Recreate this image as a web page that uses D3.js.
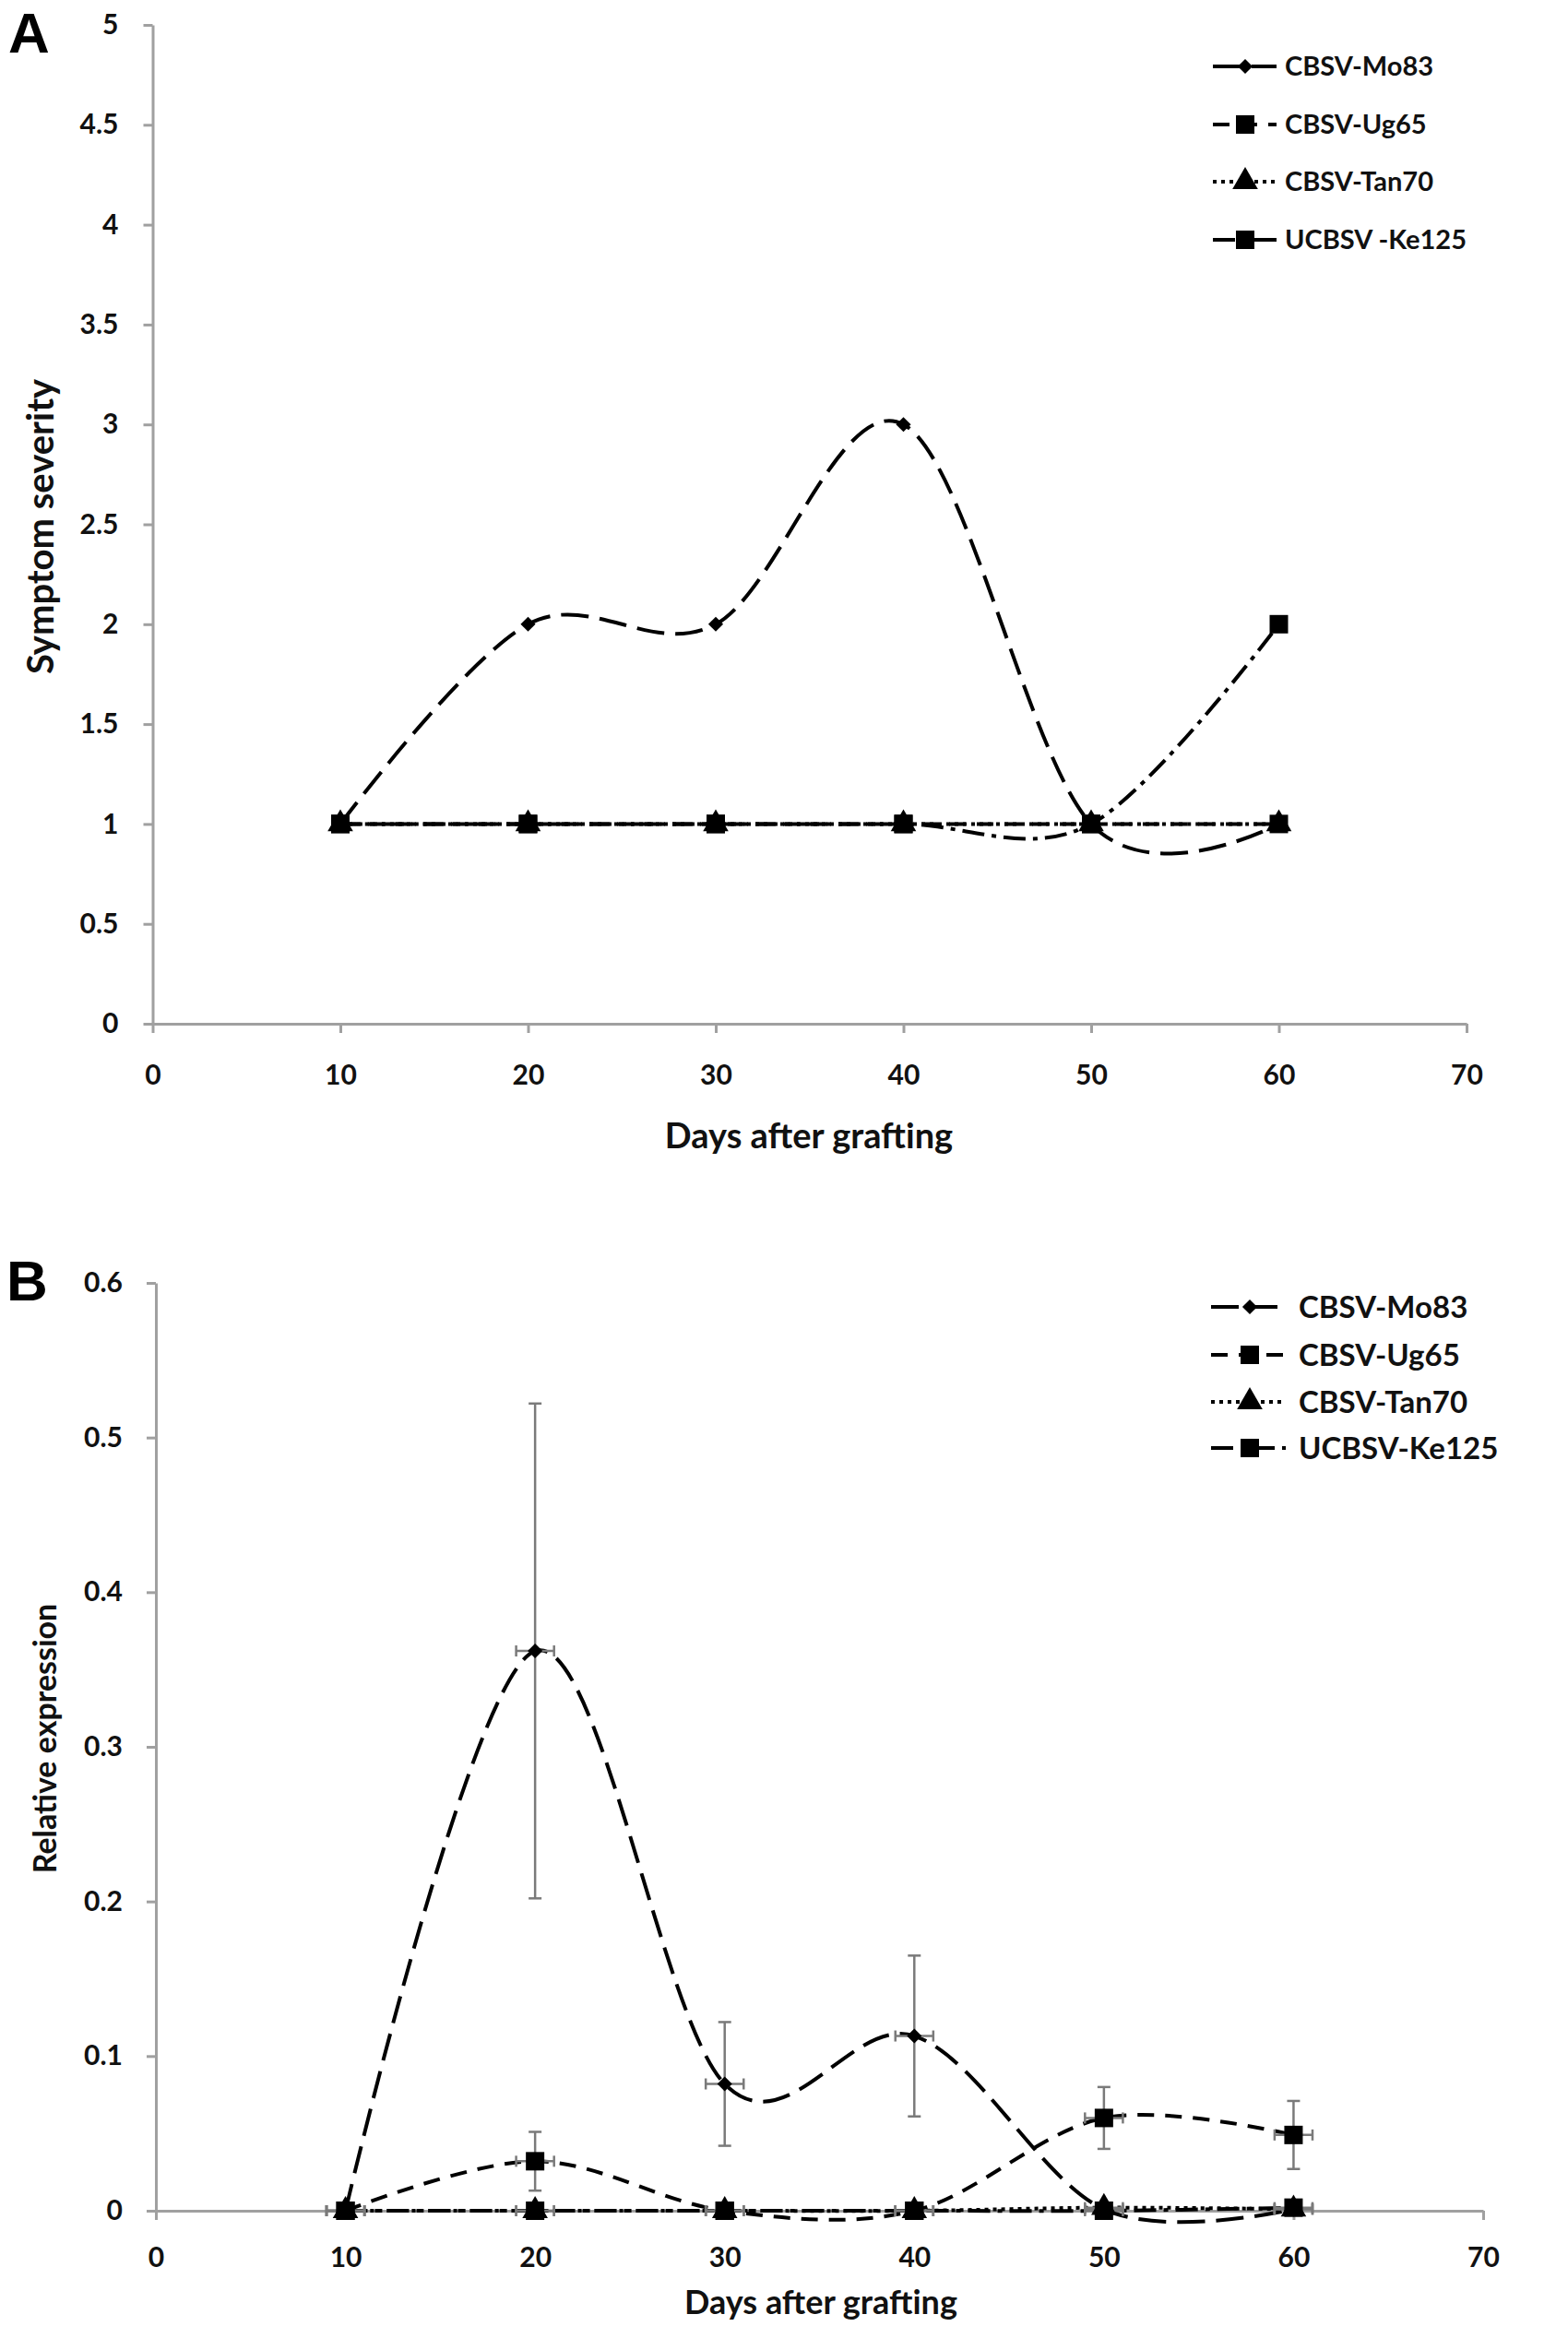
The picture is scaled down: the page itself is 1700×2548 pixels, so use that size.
<!DOCTYPE html>
<html>
<head>
<meta charset="utf-8">
<script src="https://cdn.jsdelivr.net/npm/d3@7/dist/d3.min.js"></script>
<style>
    body { margin: 0; background: #fff; }
    svg text { font-family: Lato, "Open Sans", sans-serif; font-weight: 700; fill: #111; }
</style>
</head>
<body>
<div id="draw_svg"></div>
<script>
// 数据：天数与刻度
const days = [10, 20, 30, 40, 50, 60];
const xTicks = [0, 10, 20, 30, 40, 50, 60, 70];
const dayErr = 1;

// A: 症状严重程度
const sevTicks = [0, 0.5, 1, 1.5, 2, 2.5, 3, 3.5, 4, 4.5, 5];
const sevMo83 = [1, 2, 2, 3, 1, 1];
const sevUg65 = [1, 1, 1, 1, 1, 1];
const sevTan70 = [1, 1, 1, 1, 1, 1];
const sevKe125 = [1, 1, 1, 1, 1, 2];
const legendA = ['CBSV-Mo83', 'CBSV-Ug65', 'CBSV-Tan70', 'UCBSV -Ke125'];

// B: 相对表达量 (含误差)
const expTicks = [0, 0.1, 0.2, 0.3, 0.4, 0.5, 0.6];
const expMo83 = [0, 0.362, 0.082, 0.113, 0.001, 0.001];
const expMo83Err = [0, 0.160, 0.040, 0.052, 0.001, 0];
const expUg65 = [0, 0.032, 0, 0, 0.060, 0.049];
const expUg65Err = [0, 0.019, 0, 0, 0.020, 0.022];
const expTan70 = [0, 0, 0, 0, 0.002, 0.001];
const expKe125 = [0, 0, 0, 0, 0, 0.002];
const legendB = ['CBSV-Mo83', 'CBSV-Ug65', 'CBSV-Tan70', 'UCBSV-Ke125'];

/**
 * 各系列线型与标记
 */
const styleOf = {
    Mo83: {dash: '30,12', marker: 'diamond'},
    Ug65: {dash: '18,12', marker: 'square'},
    Tan70: {dash: '4,5', marker: 'triangle'},
    Ke125: {dash: '24,8,5,8', marker: 'square'}
};

const symbolPath = {
    diamond: d3.symbol(d3.symbolSquare, 130)(),
    square: d3.symbol(d3.symbolSquare, 400)(),
    triangle: d3.symbol(d3.symbolTriangle, 330)()
};

drawMarker = (g, type, cx, cy) => {
    const rot = type === 'diamond' ? ' rotate(45)' : '';
    g.append('path')
        .attr('d', symbolPath[type])
        .attr('transform', `translate(${cx},${cy})${rot}`)
        .attr('fill', '#000');
}

/**
 * 绘制单个面板
 */
drawPanel = (svg, cfg) => {
    const x = d3.scaleLinear().domain([0, 70]).range(cfg.xr);
    const y = d3.scaleLinear().domain(cfg.yDomain).range(cfg.yr);
    const g = svg.append('g');

    const yAxis = g.append('g')
        .attr('transform', `translate(${x(0)},0)`)
        .call(d3.axisLeft(y).tickValues(cfg.yTicks).tickSize(10).tickSizeOuter(0)
            .tickPadding(cfg.yPad).tickFormat(d => String(d)));
    const xAxis = g.append('g')
        .attr('transform', `translate(0,${y(0)})`)
        .call(d3.axisBottom(x).tickValues(xTicks).tickSize(10).tickSizeOuter(0)
            .tickPadding(cfg.xPad).tickFormat(d => String(d)));

    [xAxis, yAxis].forEach(a => {
        a.attr('font-size', null).attr('font-family', null);
        a.selectAll('path, line').attr('stroke', '#a0a0a0').attr('stroke-width', 3);
        a.selectAll('text').style('font-size', '30px');
    });

    const line = d3.line()
        .x((d, i) => x(days[i]))
        .y(d => y(d))
        .curve(d3.curveCardinal.tension(0));

    // 线条
    cfg.series.forEach(s => {
        g.append('path')
            .attr('d', line(s.vals))
            .attr('fill', 'none')
            .attr('stroke', '#000')
            .attr('stroke-width', 4)
            .attr('stroke-dasharray', styleOf[s.key].dash);
    });

    // 误差线
    if (cfg.errors) {
        const eg = g.append('g').attr('stroke', '#7a7a7a').attr('stroke-width', 2.5);
        cfg.series.forEach(s => {
            s.vals.forEach((v, i) => {
                const cx = x(days[i]);
                const cy = y(v);
                const e = s.err ? s.err[i] : 0;
                if (e > 0) {
                    eg.append('line').attr('x1', cx).attr('x2', cx).attr('y1', y(v - e)).attr('y2', y(v + e));
                    [v - e, v + e].forEach(b => {
                        eg.append('line').attr('x1', cx - 7).attr('x2', cx + 7).attr('y1', y(b)).attr('y2', y(b));
                    });
                }
                eg.append('line').attr('x1', x(days[i] - dayErr)).attr('x2', x(days[i] + dayErr)).attr('y1', cy).attr('y2', cy);
                [days[i] - dayErr, days[i] + dayErr].forEach(b => {
                    eg.append('line').attr('x1', x(b)).attr('x2', x(b)).attr('y1', cy - 6).attr('y2', cy + 6);
                });
            });
        });
    }

    // 标记
    cfg.series.forEach(s => {
        s.vals.forEach((v, i) => drawMarker(g, styleOf[s.key].marker, x(days[i]), y(v)));
    });

    // 图例
    const legendKeys = ['Mo83', 'Ug65', 'Tan70', 'Ke125'];
    legendKeys.forEach((k, i) => {
        const ly = cfg.legend.rows[i];
        g.append('line')
            .attr('x1', cfg.legend.x1).attr('x2', cfg.legend.x2)
            .attr('y1', ly).attr('y2', ly)
            .attr('stroke', '#000').attr('stroke-width', 4)
            .attr('stroke-dasharray', styleOf[k].dash);
        drawMarker(g, styleOf[k].marker, cfg.legend.mx, ly);
        g.append('text')
            .attr('x', cfg.legend.tx).attr('y', ly).attr('dy', '0.36em')
            .style('font-size', cfg.legend.size + 'px')
            .text(cfg.legend.labels[i]);
    });

    // 坐标轴标题
    g.append('text')
        .attr('transform', `translate(${cfg.yTitle.x},${cfg.yTitle.y}) rotate(-90)`)
        .attr('text-anchor', 'middle').attr('dy', '0.35em')
        .style('font-size', cfg.yTitle.size + 'px')
        .text(cfg.yTitle.text);
    g.append('text')
        .attr('x', cfg.xTitle.x).attr('y', cfg.xTitle.y)
        .attr('text-anchor', 'middle').attr('dy', '0.35em')
        .style('font-size', cfg.xTitle.size + 'px')
        .text('Days after grafting');

    g.append('text')
        .attr('x', cfg.letter.x).attr('y', cfg.letter.y)
        .style('font-family', '"Liberation Sans", Arial, sans-serif')
        .style('font-size', '62px')
        .style('fill', '#000')
        .text(cfg.letter.text);
}

pageInit = () => {
    const svg = d3.select('#draw_svg')
        .append('svg')
        .attr('width', 1700)
        .attr('height', 2548);

    drawPanel(svg, {
        xr: [165.5, 1590], yr: [1110, 27], yDomain: [0, 5], yTicks: sevTicks, yPad: 27, xPad: 35,
        series: [
            {key: 'Mo83', vals: sevMo83},
            {key: 'Tan70', vals: sevTan70},
            {key: 'Ug65', vals: sevUg65},
            {key: 'Ke125', vals: sevKe125}
        ],
        errors: false,
        legend: {rows: [72, 135, 197, 260], x1: 1315, x2: 1384, mx: 1350, tx: 1393, size: 29, labels: legendA},
        yTitle: {x: 44, y: 571, size: 40, text: 'Symptom  severity'},
        xTitle: {x: 877, y: 1232, size: 38},
        letter: {x: 9, y: 57, text: 'A'}
    });

    drawPanel(svg, {
        xr: [169, 1608], yr: [2397, 1391], yDomain: [0, 0.6], yTicks: expTicks, yPad: 26, xPad: 30,
        series: [
            {key: 'Mo83', vals: expMo83, err: expMo83Err},
            {key: 'Tan70', vals: expTan70},
            {key: 'Ug65', vals: expUg65, err: expUg65Err},
            {key: 'Ke125', vals: expKe125}
        ],
        errors: true,
        legend: {rows: [1417, 1469, 1520, 1570], x1: 1313, x2: 1394, mx: 1355, tx: 1408, size: 33, labels: legendB},
        yTitle: {x: 49, y: 1885, size: 34, text: 'Relative expression'},
        xTitle: {x: 890, y: 2496, size: 36},
        letter: {x: 7, y: 1410, text: 'B'}
    });
}

window.onload = () => {
    pageInit();
}
</script>
</body>
</html>
